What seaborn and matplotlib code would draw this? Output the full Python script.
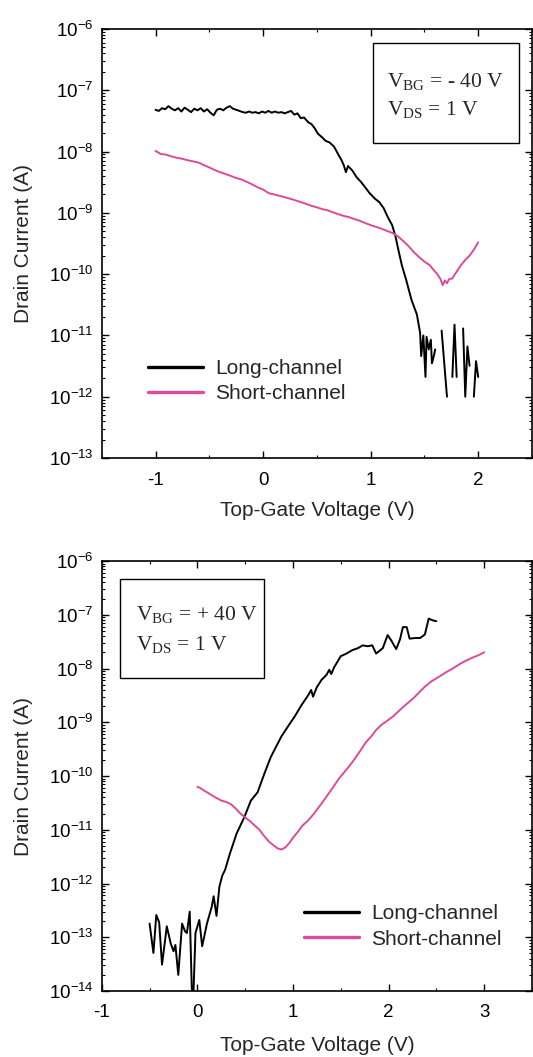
import numpy as np
import pandas as pd
import seaborn as sns
import matplotlib.pyplot as plt
from matplotlib.lines import Line2D
from matplotlib.patches import Rectangle
from matplotlib.ticker import MultipleLocator, LogLocator, NullFormatter

nan = np.nan

# ---- top panel (V_BG = -40 V) ----
top_long_v = [-1.00, -0.97, -0.94, -0.91, -0.88, -0.85, -0.82, -0.79, -0.76, -0.73,
              -0.70, -0.67, -0.64, -0.61, -0.58, -0.55, -0.52, -0.49, -0.46, -0.43,
              -0.40, -0.37, -0.34, -0.31, -0.28, -0.25, -0.22, -0.19, -0.16, -0.13,
              -0.10, -0.07, -0.04, -0.01, 0.02, 0.05, 0.08, 0.11, 0.14, 0.17,
              0.20, 0.23, 0.26, 0.29, 0.32, 0.35, 0.38, 0.42, 0.45, 0.48,
              0.51, 0.55, 0.58, 0.62, 0.66, 0.70, 0.73, 0.75, 0.77, 0.79,
              0.83, 0.87, 0.91, 0.95, 0.99, 1.04, 1.08, 1.12, 1.16, 1.20,
              1.23, 1.26, 1.29, 1.33, 1.38, 1.43, 1.46, 1.47, 1.49, 1.51,
              1.52, 1.54, 1.56, 1.57, 1.59, 1.60, 1.63, 1.66, 1.71, 1.74,
              1.76, 1.78, 1.80, 1.83, 1.86, 1.88, 1.90, 1.92, 1.94, 1.96,
              1.98, 2.00]
top_long_i = [4.8e-8, 4.6e-8, 5.1e-8, 4.9e-8, 5.5e-8, 5.0e-8, 4.7e-8, 5.1e-8, 4.5e-8, 5.2e-8,
              4.8e-8, 4.4e-8, 5.0e-8, 4.7e-8, 5.1e-8, 4.5e-8, 4.9e-8, 4.3e-8, 3.9e-8, 4.8e-8,
              5.0e-8, 4.7e-8, 5.2e-8, 5.5e-8, 5.0e-8, 4.8e-8, 4.6e-8, 4.4e-8, 4.3e-8, 4.5e-8,
              4.3e-8, 4.4e-8, 4.2e-8, 4.5e-8, 4.3e-8, 4.6e-8, 4.3e-8, 4.5e-8, 4.3e-8, 4.4e-8,
              4.2e-8, 4.4e-8, 4.6e-8, 4.0e-8, 4.2e-8, 3.5e-8, 3.6e-8, 3.0e-8, 2.8e-8, 2.4e-8,
              1.95e-8, 1.7e-8, 1.5e-8, 1.4e-8, 1.2e-8, 8.9e-9, 7.2e-9, 6.0e-9, 4.6e-9, 5.8e-9,
              4.9e-9, 3.8e-9, 3.2e-9, 2.6e-9, 2.1e-9, 1.7e-9, 1.5e-9, 1.2e-9, 8.5e-10, 6.3e-10,
              4.2e-10, 2.4e-10, 1.4e-10, 8.1e-11, 3.8e-11, 2.2e-11, 1.1e-11, 4.6e-12, 1.0e-11, 2.1e-12,
              9.5e-12, 5.9e-12, 8.5e-12, 3.5e-12, 4.8e-12, 5.9e-12, nan, 1.2e-11, 1.0e-12, nan,
              2.1e-12, 1.5e-11, 2.1e-12, nan, 1.3e-11, 1.0e-12, 6.6e-12, 3.2e-12, nan, 1.0e-12,
              3.8e-12, 2.1e-12]

top_short_v = [-1.00, -0.95, -0.90, -0.85, -0.80, -0.75, -0.70, -0.65, -0.60, -0.55,
               -0.50, -0.45, -0.40, -0.35, -0.30, -0.25, -0.20, -0.15, -0.10, -0.05,
               0.00, 0.05, 0.10, 0.15, 0.20, 0.25, 0.30, 0.35, 0.40, 0.45,
               0.50, 0.55, 0.60, 0.65, 0.70, 0.75, 0.80, 0.85, 0.90, 0.95,
               1.00, 1.05, 1.10, 1.15, 1.20, 1.25, 1.30, 1.35, 1.40, 1.45,
               1.50, 1.55, 1.58, 1.62, 1.65, 1.67, 1.69, 1.71, 1.73, 1.76,
               1.80, 1.84, 1.88, 1.92, 1.96, 2.00]
top_short_i = [1.02e-8, 9.1e-9, 8.9e-9, 8.3e-9, 7.9e-9, 7.6e-9, 7.2e-9, 6.9e-9, 6.6e-9, 6.0e-9,
               5.5e-9, 5.0e-9, 4.6e-9, 4.3e-9, 4.0e-9, 3.7e-9, 3.5e-9, 3.2e-9, 2.9e-9, 2.6e-9,
               2.4e-9, 2.1e-9, 2.0e-9, 1.9e-9, 1.8e-9, 1.7e-9, 1.6e-9, 1.5e-9, 1.4e-9, 1.3e-9,
               1.23e-9, 1.15e-9, 1.1e-9, 1.02e-9, 9.5e-10, 8.9e-10, 8.5e-10, 7.9e-10, 7.4e-10, 6.8e-10,
               6.3e-10, 5.9e-10, 5.5e-10, 5.1e-10, 4.7e-10, 4.2e-10, 3.5e-10, 2.9e-10, 2.3e-10, 1.9e-10,
               1.6e-10, 1.4e-10, 1.2e-10, 1.0e-10, 8.3e-11, 6.6e-11, 7.9e-11, 7.1e-11, 8.3e-11, 8.5e-11,
               1.1e-10, 1.4e-10, 1.7e-10, 2.0e-10, 2.5e-10, 3.3e-10]

# ---- bottom panel (V_BG = +40 V) ----
bot_long_v = [-0.50, -0.46, -0.43, -0.40, -0.37, -0.32, -0.28, -0.25, -0.23, -0.20,
              -0.16, -0.13, -0.11, -0.08, -0.05, -0.02, 0.02, 0.05, 0.10, 0.15,
              0.17, 0.20, 0.23, 0.26, 0.29, 0.34, 0.41, 0.49, 0.56, 0.63,
              0.70, 0.77, 0.88, 0.95, 1.02, 1.09, 1.16, 1.19, 1.21, 1.25,
              1.30, 1.35, 1.38, 1.40, 1.43, 1.50, 1.56, 1.62, 1.68, 1.73,
              1.78, 1.83, 1.87, 1.90, 1.94, 1.99, 2.03, 2.08, 2.12, 2.15,
              2.19, 2.22, 2.28, 2.33, 2.38, 2.42, 2.46, 2.50]
bot_long_i = [1.8e-13, 5.1e-14, 2.6e-13, 1.9e-13, 3.1e-14, 1.6e-13, 7.8e-14, 5.5e-14, 7.2e-14, 2.0e-14,
              1.8e-13, 1.3e-13, 1.2e-13, 3.0e-13, 3.0e-15, 1.2e-13, 2.1e-13, 6.8e-14, 1.8e-13, 3.7e-13,
              5.8e-13, 2.5e-13, 8.7e-13, 1.4e-12, 1.8e-12, 3.6e-12, 8.5e-12, 1.7e-11, 3.5e-11, 5.0e-11,
              1.1e-10, 2.3e-10, 5.5e-10, 8.5e-10, 1.3e-9, 2.1e-9, 3.2e-9, 4.0e-9, 3.0e-9, 4.5e-9,
              6.2e-9, 7.6e-9, 9.5e-9, 7.9e-9, 1.05e-8, 1.7e-8, 1.9e-8, 2.2e-8, 2.4e-8, 2.7e-8,
              2.6e-8, 2.7e-8, 1.9e-8, 2.1e-8, 2.4e-8, 4.2e-8, 3.3e-8, 2.3e-8, 3.5e-8, 5.9e-8,
              5.9e-8, 3.6e-8, 3.7e-8, 3.7e-8, 4.3e-8, 8.5e-8, 7.9e-8, 7.6e-8]

bot_short_v = [0.00, 0.03, 0.06, 0.10, 0.15, 0.20, 0.25, 0.30, 0.35, 0.40,
               0.45, 0.50, 0.55, 0.60, 0.65, 0.70, 0.75, 0.80, 0.84, 0.88,
               0.92, 0.96, 1.00, 1.05, 1.10, 1.16, 1.22, 1.30, 1.39, 1.48,
               1.55, 1.62, 1.69, 1.76, 1.82, 1.87, 1.93, 1.98, 2.05, 2.12,
               2.19, 2.26, 2.32, 2.38, 2.45, 2.52, 2.60, 2.67, 2.74, 2.81,
               2.88, 2.95, 3.00]
bot_short_i = [6.3e-11, 6.0e-11, 5.5e-11, 5.0e-11, 4.4e-11, 3.9e-11, 3.5e-11, 3.3e-11, 3.0e-11, 2.5e-11,
               2.0e-11, 1.7e-11, 1.45e-11, 1.2e-11, 1.0e-11, 7.6e-12, 6.0e-12, 5.1e-12, 4.5e-12, 4.3e-12,
               4.7e-12, 5.6e-12, 7.1e-12, 9.1e-12, 1.2e-11, 1.5e-11, 2.0e-11, 3.1e-11, 5.2e-11, 8.9e-11,
               1.26e-10, 1.8e-10, 2.7e-10, 4.2e-10, 5.5e-10, 7.2e-10, 9.1e-10, 1.05e-9, 1.3e-9, 1.7e-9,
               2.2e-9, 2.8e-9, 3.6e-9, 4.6e-9, 5.8e-9, 6.9e-9, 8.5e-9, 1.0e-8, 1.2e-8, 1.4e-8,
               1.6e-8, 1.8e-8, 2.0e-8]

labels = ['Long-channel', 'Short-channel']
pink = '#dc4a9c'
colors = {'Long-channel': 'black', 'Short-channel': pink}

sns.set_style('ticks')
plt.rcParams['font.family'] = ['Liberation Sans', 'DejaVu Sans']
plt.rcParams['axes.unicode_minus'] = False


def frame(v_long, i_long, v_short, i_short):
    a = pd.DataFrame({'V': v_long, 'I': i_long, 'device': labels[0]})
    a['seg'] = a['I'].isna().cumsum()  # gaps where the current was not positive
    b = pd.DataFrame({'V': v_short, 'I': i_short, 'device': labels[1]})
    b['seg'] = 100
    return pd.concat([a, b]).dropna()


def style_axes(ax, ylim, xlim, xpad):
    ax.set_yscale('log')
    ax.set_ylim(*ylim)
    ax.set_xlim(*xlim)
    ax.xaxis.set_major_locator(MultipleLocator(1))
    ax.xaxis.set_minor_locator(MultipleLocator(0.5))
    ax.yaxis.set_major_locator(LogLocator(base=10, numticks=20))
    ax.yaxis.set_minor_locator(LogLocator(base=10, subs=np.arange(2, 10), numticks=20))
    ax.yaxis.set_minor_formatter(NullFormatter())
    ax.tick_params(which='both', direction='in', top=True, right=True, colors='black')
    ax.tick_params(which='major', length=5, width=1.0, labelsize=13.5)
    ax.tick_params(which='minor', length=2.5, width=0.8)
    ax.tick_params(axis='x', pad=xpad)
    ax.tick_params(axis='y', pad=6)
    for s in ax.spines.values():
        s.set_linewidth(1.2)
        s.set_color('black')
    ax.set_xlabel('Top-Gate Voltage (V)', fontsize=15)
    ax.set_ylabel('Drain Current (A)', fontsize=15)
    ax.yaxis.set_label_coords(-0.16, 0.5)


def add_legend(ax, anchor):
    handles = [Line2D([], [], color=colors[l], lw=2.4) for l in labels]
    ax.legend(handles, labels, loc='center left', bbox_to_anchor=anchor, frameon=False,
              fontsize=15, handlelength=2.65, handletextpad=0.6, labelspacing=0.3,
              borderpad=0, borderaxespad=0)


def add_box(ax, box, tx, ty, sign):
    ax.add_patch(Rectangle((box[0], box[1]), box[2] - box[0], box[3] - box[1],
                           transform=ax.transAxes, fill=False, ec='black', lw=1.0))
    ax.text(tx, ty[0], r'V$_{\mathregular{BG}}$ = ' + sign + ' 40 V', transform=ax.transAxes,
            family='Liberation Serif', fontsize=15.5, va='center')
    ax.text(tx, ty[1], r'V$_{\mathregular{DS}}$ = 1 V', transform=ax.transAxes,
            family='Liberation Serif', fontsize=15.5, va='center')


fig = plt.figure(figsize=(5.33, 10.57), dpi=100)
ax1 = fig.add_axes([0.191, 0.5667, 0.807, 0.4059])
ax2 = fig.add_axes([0.191, 0.0624, 0.807, 0.4068])

for ax in (ax1, ax2):
    ax.set_yscale('log')

df_top = frame(top_long_v, top_long_i, top_short_v, top_short_i)
sns.lineplot(data=df_top, x='V', y='I', hue='device', units='seg', estimator=None, sort=False,
             palette=colors, linewidth=1.4, legend=False, ax=ax1)
style_axes(ax1, (1e-13, 1e-6), (-1.5, 2.5), 10)
ax1.xaxis.set_label_coords(0.5, -0.10)
add_legend(ax1, (0.107, 0.179))
add_box(ax1, (0.631, 0.734, 0.970, 0.967), 0.664, (0.876, 0.811), '-')

df_bot = frame(bot_long_v, bot_long_i, bot_short_v, bot_short_i)
sns.lineplot(data=df_bot, x='V', y='I', hue='device', units='seg', estimator=None, sort=False,
             palette=colors, linewidth=1.4, legend=False, ax=ax2)
style_axes(ax2, (1e-14, 1e-6), (-1, 3.5), 9)
ax2.xaxis.set_label_coords(0.5, -0.105)
add_legend(ax2, (0.469, 0.15))
add_box(ax2, (0.042, 0.728, 0.378, 0.958), 0.079, (0.875, 0.805), '+')

fig.savefig('out.png', dpi=100)
